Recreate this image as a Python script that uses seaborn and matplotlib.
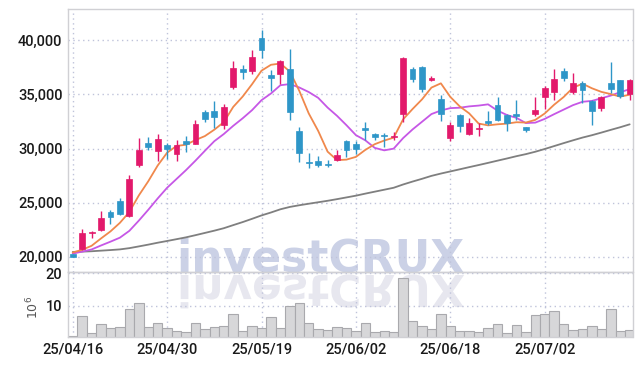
import matplotlib
matplotlib.use("Agg")
import matplotlib.pyplot as plt
from matplotlib.font_manager import FontProperties
from matplotlib.patches import PathPatch
from matplotlib.textpath import TextPath
from matplotlib.transforms import Affine2D
import matplotlib.ticker as mticker
import numpy as np
import seaborn as sns

# 일봉 데이터 (25/04/16 ~ 25/07/15, 거래일 기준)
tick_pos = [0, 10, 20, 30, 40, 50]
tick_labels = ["25/04/16", "25/04/30", "25/05/19", "25/06/02", "25/06/18", "25/07/02"]

open_ = [20250, 20700, 22160, 22440, 24130, 25180, 23730, 28520, 30520, 29750,
         30310, 29470, 30700, 30460, 33330, 33430, 32160, 35680, 37380, 37160,
         40190, 36760, 36880, 37310, 31570, 28770, 28890, 28610, 28920, 30650,
         30370, 31850, 31360, 31270, 31100, 33210, 37380, 37560, 36300, 34540,
         30990, 33060, 31360, 31780, 32500, 33980, 33060, 33150, 31940, 33150,
         34750, 35210, 37130, 35210, 36020, 34350, 33700, 36020, 36300, 35030]
high = [20300, 22560, 22350, 24200, 24290, 25430, 27560, 30930, 31080, 31360,
        30500, 30770, 31140, 32590, 33550, 34420, 34140, 38120, 37690, 39100,
        40930, 37250, 38150, 39170, 31940, 29600, 29290, 28920, 29840, 30770,
        30710, 32470, 31450, 31420, 31510, 38460, 37530, 37600, 36690, 34970,
        32440, 33180, 32810, 32310, 33450, 34790, 33150, 34440, 32000, 34790,
        35770, 37380, 37470, 37010, 36230, 34500, 34850, 37940, 36330, 36450]
low = [20000, 20650, 21730, 22340, 23060, 23890, 23680, 28330, 29820, 28820,
       29050, 28860, 29660, 30370, 32440, 31920, 31760, 35460, 36450, 36850,
       38310, 35310, 35930, 32590, 28730, 28210, 28270, 28270, 28860, 29230,
       29510, 30740, 30770, 30120, 30770, 32440, 36180, 35190, 36250, 32530,
       30680, 31510, 31270, 31200, 32190, 32530, 31600, 32660, 31510, 32990,
       33680, 34470, 36200, 35000, 34170, 32160, 33450, 35090, 34690, 34470]
close = [20030, 22200, 22300, 23580, 23640, 23980, 27220, 29900, 30120, 30920,
         29910, 30340, 30440, 32290, 32750, 32870, 33800, 37470, 37070, 38490,
         39100, 36510, 38060, 33360, 29600, 28680, 28450, 28460, 29440, 29840,
         29940, 31700, 31080, 31110, 31180, 38400, 36450, 35530, 36550, 33150,
         32130, 32070, 32310, 31850, 32320, 32620, 32380, 32960, 31700, 33550,
         35560, 36450, 36480, 36020, 35400, 33450, 34790, 35460, 34840, 36300]

# 이동평균선 (5일, 10일, 60일)
ma5 = [20400, 20650, 21020, 21700, 22350, 23140, 24144, 25664, 26972, 28428,
       29614, 30238, 30346, 30780, 31146, 31738, 32430, 33836, 34792, 35940,
       37186, 37728, 37846, 37104, 35326, 33242, 31630, 29710, 28926, 28974,
       29226, 29876, 30400, 30734, 31002, 32694, 33644, 34534, 35622, 36016,
       34762, 33886, 33242, 32302, 32136, 32234, 32296, 32426, 32396, 32642,
       33230, 34044, 34748, 35612, 35982, 35560, 35228, 35024, 34788, 34968]
ma10 = [20300, 20480, 20680, 21050, 21400, 21770, 22400, 23340, 24340, 25389,
        26377, 27191, 28005, 28876, 29787, 30676, 31334, 32091, 32786, 33543,
        34462, 35079, 35841, 35948, 35633, 35214, 34679, 33778, 33015, 32150,
        31234, 30753, 30055, 29830, 29988, 30960, 31760, 32467, 33178, 33509,
        33728, 33765, 33888, 33962, 34076, 33498, 33091, 32834, 32349, 32389,
        32732, 33170, 33587, 34004, 34312, 34395, 34636, 34886, 35200, 35475]
ma60 = [20450, 20482, 20515, 20570, 20625, 20687, 20802, 20962, 21126, 21303,
        21463, 21630, 21799, 21999, 22207, 22416, 22641, 22927, 23207, 23510,
        23823, 24093, 24389, 24607, 24762, 24902, 25038, 25174, 25326, 25485,
        25646, 25836, 26016, 26196, 26377, 26679, 26948, 27202, 27473, 27687,
        27884, 28080, 28280, 28473, 28673, 28878, 29079, 29290, 29480, 29701,
        29955, 30224, 30494, 30756, 31008, 31227, 31469, 31721, 31964, 32230]

# 거래량 (백만 주)
volume = [0.9, 6.9, 1.6, 4.5, 3.2, 3.6, 9.1, 10.8, 3.6, 4.7,
          3.3, 2.2, 1.9, 4.7, 3.0, 3.6, 4.0, 7.5, 2.2, 3.9,
          3.2, 6.5, 3.2, 9.9, 10.8, 4.7, 2.9, 2.5, 3.7, 3.4,
          2.3, 4.9, 1.9, 2.2, 1.9, 18.5, 5.3, 3.8, 2.9, 7.6,
          3.9, 2.3, 2.4, 1.9, 3.3, 4.5, 1.6, 4.1, 1.9, 7.2,
          7.6, 8.5, 4.5, 2.7, 2.9, 3.9, 2.9, 9.1, 2.4, 2.7]

UP = "#e2196b"
DOWN = "#2e96c8"
GRID = "#bfc3da"
SPINE = "#d0d0d4"

sns.set_style("white")
plt.rcParams["font.family"] = ["Roboto", "DejaVu Sans"]

W, H = 642, 366
fig = plt.figure(figsize=(W / 100, H / 100), dpi=100)
left, right = 68, 632.5
ax = fig.add_axes([left / W, 1 - 272 / H, (right - left) / W, (272 - 9.3) / H])
axv = fig.add_axes([left / W, 1 - 336.7 / H, (right - left) / W, (336.7 - 272) / H])

idx = np.arange(len(close))

# 워터마크 (반사 효과 포함)
fig.text(176 / W, (H - 271) / H, "investCRUX", fontsize=44 * 0.72,
         fontweight="bold", family="DejaVu Sans", color="#cbd1e6",
         ha="left", va="baseline", zorder=-2)
tp = TextPath((0, 0), "investCRUX", size=44,
              prop=FontProperties(family="DejaVu Sans", weight="bold"))
refl = PathPatch(tp, transform=Affine2D().scale(1, -1).translate(177, H - 275),
                 facecolor="#e7e7ef", lw=0, zorder=-2)
fig.add_artist(refl)

# 이동평균선
sns.lineplot(x=idx, y=ma60, ax=ax, color="#7f7f7f", linewidth=1.3, zorder=2)
sns.lineplot(x=idx, y=ma10, ax=ax, color="#c657e6", linewidth=1.3, zorder=2)
sns.lineplot(x=idx, y=ma5, ax=ax, color="#f0884c", linewidth=1.3, zorder=2)

# 캔들
o = np.array(open_)
c = np.array(close)
cols = [UP if cc >= oo else DOWN for oo, cc in zip(o, c)]
ax.vlines(idx, low, high, colors=cols, linewidth=1.0, zorder=3)
body = np.maximum(np.abs(c - o), 60)
ax.bar(idx, body, bottom=np.minimum(o, c), width=0.62, color=cols,
       edgecolor=cols, linewidth=0.5, zorder=4)

# 거래량
sns.barplot(x=idx, y=volume, ax=axv, width=1.0, color="#d7d7d9",
            edgecolor="#a9a9ad", linewidth=0.8, saturation=1, zorder=2)

for a in (ax, axv):
    a.set_facecolor("none")
    a.set_xlim(-0.5, 59.3)
    a.set_xticks(tick_pos)
    a.grid(True, linestyle=(0, (1, 2.5)), color=GRID, linewidth=1.0)
    a.set_axisbelow(True)
    for s in a.spines.values():
        s.set_color(SPINE)
        s.set_linewidth(1.0)
    a.tick_params(length=0, labelsize=10.5, labelcolor="#1a1a1a", pad=4)
    a.set_xlabel("")
    a.set_ylabel("")

ax.set_ylim(18600, 42850)
ax.set_yticks([20000, 25000, 30000, 35000, 40000])
ax.yaxis.set_major_formatter(mticker.FuncFormatter(lambda v, _: f"{v:,.0f}"))
ax.tick_params(labelbottom=False)

axv.set_ylim(0.6, 20.4)
axv.set_yticks([10, 20])
axv.set_xticklabels(tick_labels)
axv.set_ylabel(r"$10^6$", fontsize=9, color="#555555")
axv.yaxis.set_label_coords(-0.047, 0.45)

for lab in ax.get_yticklabels() + axv.get_yticklabels() + axv.get_xticklabels():
    lab.set_fontweight("medium")

fig.savefig("out.png", dpi=100)
